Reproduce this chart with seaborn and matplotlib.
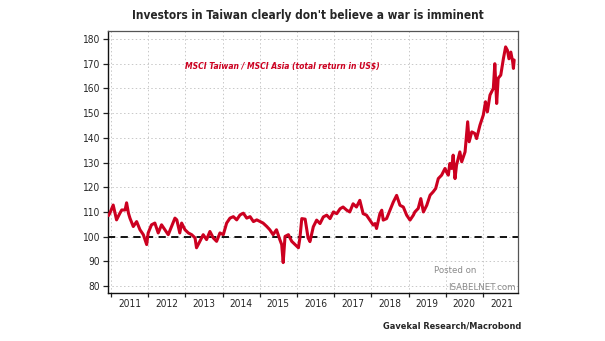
import matplotlib
matplotlib.use("Agg")
import matplotlib.pyplot as plt
import seaborn as sns
import pandas as pd
from matplotlib.ticker import FixedLocator, NullFormatter

# MSCI Taiwan / MSCI Asia relative total return (US$), indexed
years = [
    2010.93, 2010.97, 2011.06, 2011.11, 2011.15, 2011.24, 2011.29, 2011.38, 2011.42, 2011.47,
    2011.51, 2011.60, 2011.69, 2011.78, 2011.87, 2011.96, 2012.00, 2012.09, 2012.18, 2012.27,
    2012.36, 2012.45, 2012.54, 2012.63, 2012.72, 2012.77, 2012.85, 2012.90, 2012.99, 2013.08,
    2013.17, 2013.26, 2013.30, 2013.39, 2013.48, 2013.57, 2013.66, 2013.75, 2013.84, 2013.93,
    2014.02, 2014.11, 2014.20, 2014.29, 2014.38, 2014.47, 2014.56, 2014.65, 2014.74, 2014.83,
    2014.92, 2015.01, 2015.09, 2015.19, 2015.27, 2015.36, 2015.45, 2015.54, 2015.59, 2015.63,
    2015.68, 2015.77, 2015.86, 2015.95, 2016.04, 2016.08, 2016.13, 2016.22, 2016.30,
    2016.35, 2016.44, 2016.53, 2016.62, 2016.71, 2016.80, 2016.89, 2016.98, 2017.07, 2017.16,
    2017.24, 2017.34, 2017.42, 2017.51, 2017.60, 2017.69, 2017.78, 2017.87, 2017.96, 2018.05,
    2018.10, 2018.14, 2018.23, 2018.28, 2018.32, 2018.41, 2018.50, 2018.59, 2018.68, 2018.77,
    2018.86, 2018.95, 2019.04, 2019.13,
    2019.17, 2019.26, 2019.33, 2019.40, 2019.49, 2019.58, 2019.66, 2019.73, 2019.80, 2019.89,
    2019.98, 2020.02, 2020.07, 2020.11, 2020.16, 2020.20, 2020.25, 2020.29, 2020.38, 2020.43,
    2020.52, 2020.56, 2020.59, 2020.63, 2020.70, 2020.78, 2020.83, 2020.92, 2021.01, 2021.07,
    2021.12, 2021.19, 2021.28, 2021.32, 2021.37, 2021.41, 2021.48, 2021.55, 2021.61, 2021.66,
    2021.70, 2021.75, 2021.80, 2021.82, 2021.84,
]
ratio = [
    108.5, 109.5, 112.8, 109.5, 106.8, 109.5, 110.8, 110.8, 113.7, 109.5,
    107.5, 104.1, 106.1, 102.8, 100.8, 96.8, 101.5, 104.8, 105.5, 101.5,
    104.8, 102.8, 100.8, 104.1, 107.5, 106.8, 101.5, 105.5, 102.8, 101.5,
    100.8, 99.5, 95.5, 98.1, 100.8, 98.8, 102.1, 99.5, 98.1, 101.5,
    100.8, 105.5, 107.5, 108.1, 106.8, 108.8, 109.5, 107.5, 108.1, 106.1,
    106.8, 106.1, 105.5, 104.1, 102.8, 100.8, 102.8, 98.8, 96.8, 89.5,
    100.1, 100.8, 98.1, 96.8, 95.5, 99.5, 107.3, 107.1, 99.5,
    98.0, 104.0, 106.7, 105.3, 108.0, 108.7, 107.3, 110.0, 109.3, 111.3,
    112.0, 110.7, 110.0, 113.3, 112.0, 114.7, 109.3, 108.7, 106.7, 104.7,
    105.3, 103.3, 109.3, 110.7, 106.7, 107.3, 110.7, 114.0, 116.7, 112.7,
    112.0, 108.7, 106.7, 108.7,
    110.0, 111.4, 115.4, 110.0, 112.7, 116.8, 118.1, 119.5, 123.5, 124.9,
    127.6, 126.2, 124.9, 129.6, 127.6, 133.0, 123.5, 128.9, 134.3, 130.3,
    134.3, 141.1, 146.5, 138.4, 142.4, 141.8, 139.7, 145.1, 149.2, 154.6,
    150.5, 157.3, 160.0, 170.0, 153.9, 164.1, 165.4, 172.0, 176.8, 175.4,
    172.0, 174.7, 170.8, 168.1, 171.5,
]
year_labels = [str(y) for y in range(2011, 2022)]
y_ticks = list(range(80, 190, 10))

title = "Investors in Taiwan clearly don't believe a war is imminent"
series_label = "MSCI Taiwan / MSCI Asia (total return in US$)"
source = "Gavekal Research/Macrobond"

RED = "#CC0020"

sns.set_style("ticks")
plt.rcParams["font.family"] = ["DejaVu Sans"]
plt.rcParams["font.stretch"] = "condensed"

df = pd.DataFrame({"year": years, "ratio": ratio})

fig = plt.figure(figsize=(6.05, 3.41), dpi=100)
ax = fig.add_axes([0.1785, 0.1408, 0.6775, 0.768])

ax.axhline(100, color="black", lw=1.3, ls=(0, (4, 3)), zorder=2)
sns.lineplot(data=df, x="year", y="ratio", ax=ax, color=RED, lw=2.2, zorder=3)

ax.set_xlim(2010.92, 2021.94)
ax.set_ylim(77.2, 183.2)
ax.set_xlabel("")
ax.set_ylabel("")

# year boundaries carry ticks and grid, labels sit in the middle of each year
ax.xaxis.set_major_locator(FixedLocator(list(range(2011, 2023))))
ax.xaxis.set_major_formatter(NullFormatter())
ax.xaxis.set_minor_locator(FixedLocator([y + 0.5 for y in range(2011, 2022)]))
ax.set_xticklabels(year_labels, minor=True)
ax.tick_params(axis="x", which="major", length=3, width=0.9, direction="out", color="#222222")
ax.tick_params(axis="x", which="minor", length=0, pad=4, labelsize=7.3)

ax.set_yticks(y_ticks)
ax.set_yticklabels([str(v) for v in y_ticks])
ax.tick_params(axis="y", length=3.5, width=0.9, direction="out", labelsize=7.3, pad=2, color="#222222")

ax.grid(True, which="major", color="#C8C8C8", lw=0.7, ls=(0, (1.5, 2.5)))

for side in ("left", "bottom"):
    ax.spines[side].set_color("#111111")
    ax.spines[side].set_linewidth(1.0)
for side in ("top", "right"):
    ax.spines[side].set_visible(True)
    ax.spines[side].set_color("#555555")
    ax.spines[side].set_linewidth(0.9)

ax.text(0.187, 0.865, series_label, transform=ax.transAxes, color=RED,
        fontsize=6.1, fontweight="bold", fontstyle="italic", ha="left", va="center")

fig.text(0.509, 0.955, title, ha="center", va="center", fontsize=8.5, fontweight="bold")
fig.text(0.862, 0.045, source, ha="right", va="center", fontsize=6.6, fontweight="bold")

# site watermark
fig.text(0.752, 0.208, "Posted on", ha="center", va="center", fontsize=6.2,
         color="#8A8A8A", stretch="normal")
fig.text(0.853, 0.158, "ISABELNET.com", ha="right", va="center", fontsize=6.2,
         color="#8A8A8A", stretch="normal")

fig.savefig("out.png", dpi=100)
